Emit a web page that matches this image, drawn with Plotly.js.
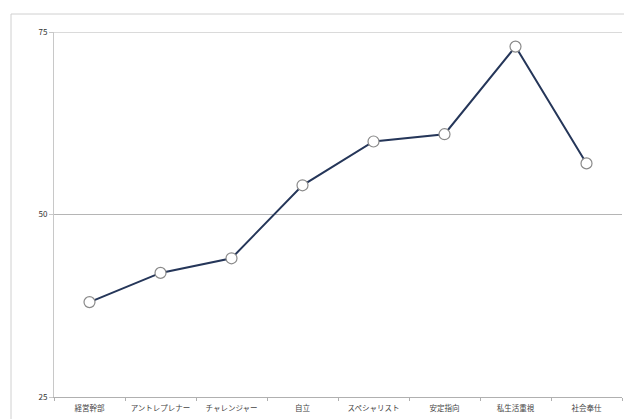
<!DOCTYPE html>
<html>
<head>
<meta charset="utf-8">
<script src="https://cdn.plot.ly/plotly-3.0.1.min.js"></script>
<style>html,body{margin:0;padding:0;background:#fff;}#chart{width:624px;height:419px;}</style>
</head>
<body>
<div id="chart"></div>
<script>
const categories = ["経営幹部","アントレプレナー","チャレンジャー","自立","スペシャリスト","安定指向","私生活重視","社会奉仕"];
const values = [38, 42, 44, 54, 60, 61, 73, 57];
const yTicks = [25, 50, 75];

const trace = {
  x: categories,
  y: values,
  type: "scatter",
  mode: "lines+markers",
  line: {color: "#253659", width: 2},
  marker: {size: 11, color: "#ffffff", line: {color: "#8a8a8a", width: 1.2}},
  hoverinfo: "x+y"
};

const gridShapes = yTicks.slice(1).map(v => ({
  type: "line", xref: "paper", yref: "y",
  x0: 0, x1: 1, y0: v, y1: v,
  line: {color: "#b5b5b5", width: 1}, layer: "below"
}));

const layout = {
  width: 624, height: 419,
  margin: {l: 54, r: 2, t: 32, b: 22},
  paper_bgcolor: "#ffffff",
  plot_bgcolor: "#ffffff",
  showlegend: false,
  font: {family: "Noto Sans CJK JP, sans-serif", size: 7, color: "#333"},
  xaxis: {
    type: "category",
    showgrid: false,
    showline: true, linecolor: "#b0b0b0", linewidth: 1,
    ticks: "outside", ticklen: 3, tickcolor: "#b0b0b0",
    tickson: "boundaries",
    tickangle: 0,
    ticklabelstandoff: 4,
    tickfont: {size: 7.5, color: "#444"},
    range: [-0.5, 7.5],
    fixedrange: true
  },
  yaxis: {
    range: [25, 75],
    tickvals: yTicks,
    ticktext: yTicks.map(String),
    showgrid: false,
    showline: true, linecolor: "#c8c8c8", linewidth: 1,
    ticks: "outside", ticklen: 4, tickcolor: "#c8c8c8",
    zeroline: false,
    tickfont: {size: 8, color: "#333"},
    fixedrange: true
  },
  shapes: [{
    type: "rect", xref: "paper", yref: "paper",
    x0: -0.0757, x1: 1.05, y0: -0.2, y1: 1.0493,
    line: {color: "#d0d0d0", width: 1}, fillcolor: "rgba(0,0,0,0)", layer: "below"
  }].concat(gridShapes)
};

Plotly.newPlot("chart", [trace], layout, {displayModeBar: false, staticPlot: true});
</script>
</body>
</html>
